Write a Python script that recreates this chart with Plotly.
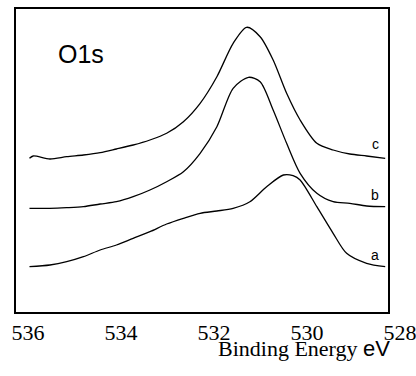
import plotly.graph_objects as go

# Binding energy (eV) sample points
energy = [535.71, 535.63, 535.27, 534.91, 534.55, 534.19, 533.84, 533.48, 533.12,
          532.76, 532.40, 532.04, 531.68, 531.33, 531.04, 530.75, 530.47, 530.18,
          529.89, 529.53, 529.18, 528.82, 528.46, 528.06]
curve_c = [153.7, 156.0, 153.0, 155.3, 157.0, 159.3, 163.0, 167.0, 172.0,
           178.7, 190.3, 208.7, 235.3, 268.7, 284.7, 275.3, 252.0, 218.7,
           192.0, 168.7, 162.0, 158.0, 156.0, 153.7]

energy_b = [535.71, 535.27, 534.91, 534.55, 534.19, 533.84, 533.48, 533.12, 532.76,
            532.40, 532.04, 531.68, 531.33, 531.00, 530.75, 530.47, 530.18, 529.89,
            529.53, 529.18, 528.82, 528.46, 528.06]
curve_b = [103.7, 103.7, 104.3, 105.3, 108.0, 110.3, 115.3, 122.0, 130.3,
           140.3, 158.7, 185.3, 223.7, 234.7, 230.3, 202.0, 168.7, 138.7,
           118.7, 110.3, 108.7, 106.0, 105.3]

energy_a = [535.71, 535.27, 534.91, 534.55, 534.19, 533.84, 533.48, 533.12, 532.76,
            532.40, 532.04, 531.68, 531.33, 530.97, 530.61, 530.25, 530.04, 529.89,
            529.53, 529.18, 528.89, 528.46, 528.06]
curve_a = [45.3, 47.0, 50.3, 55.3, 62.0, 67.0, 73.7, 80.3, 88.0,
           93.7, 98.7, 101.0, 103.7, 110.3, 125.3, 137.0, 136.3, 132.0,
           105.3, 78.7, 58.7, 48.7, 45.3]

tick_vals = [536, 534, 532, 530, 528]
tick_text = ["536", "534", "532", "530", "528"]

curve_labels = ["a", "b", "c"]
label_x = [528.27, 528.27, 528.27]
label_y = [57, 117, 168]

SERIF = "Liberation Serif, Times New Roman, serif"
SANS = "Liberation Sans, Arial, sans-serif"

fig = go.Figure()
line = dict(color="black", width=1.3, shape="spline", smoothing=0.8)
fig.add_trace(go.Scatter(x=energy_a, y=curve_a, mode="lines", line=line, name="a"))
fig.add_trace(go.Scatter(x=energy_b, y=curve_b, mode="lines", line=line, name="b"))
fig.add_trace(go.Scatter(x=energy, y=curve_c, mode="lines", line=line, name="c"))

for t, x, y in zip(curve_labels, label_x, label_y):
    fig.add_annotation(x=x, y=y, text=t, showarrow=False, xanchor="center", yanchor="middle",
                       font=dict(family=SANS, size=14, color="black"))

fig.add_annotation(xref="paper", yref="paper", x=0.1075, y=0.851, text="O1s", showarrow=False,
                   xanchor="left", yanchor="middle",
                   font=dict(family=SANS, size=25, color="black"))

fig.add_annotation(xref="paper", yref="paper", x=1.012, y=-0.074, showarrow=False,
                   xanchor="right", yanchor="top",
                   text='Binding Energy <span style="font-family:Liberation Sans">eV</span>',
                   font=dict(family=SERIF, size=22, color="black"))

fig.update_layout(
    template="none",
    font=dict(family=SERIF, color="black"),
    width=416, height=376,
    margin=dict(l=16, r=28, t=9, b=64, autoexpand=False),
    paper_bgcolor="white", plot_bgcolor="white",
    showlegend=False,
    xaxis=dict(range=[536, 528], tickvals=tick_vals, ticktext=tick_text, automargin=False,
               showgrid=False, zeroline=False, showline=True, linecolor="black", linewidth=2,
               mirror=True, ticks="", ticklabelshift=-12, ticklabelstandoff=0,
               ticklabeloverflow="allow",
               tickfont=dict(family=SERIF, size=22, color="black")),
    yaxis=dict(range=[0, 303], showticklabels=False, showgrid=False, zeroline=False,
               automargin=False,
               showline=True, linecolor="black", linewidth=2, mirror=True, ticks=""),
)

fig.write_html("out.html")
